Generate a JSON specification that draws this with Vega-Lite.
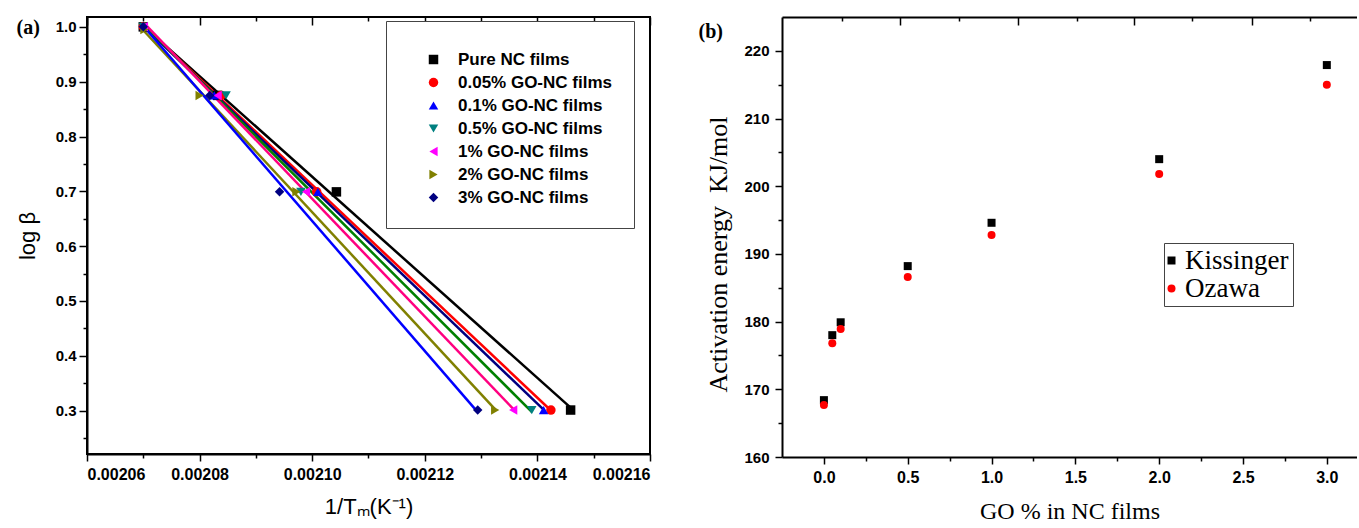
{
  "$schema": "https://vega.github.io/schema/vega-lite/v6.json",
  "background": "white",
  "padding": {"left": 15, "top": 15, "right": 0, "bottom": 0},
  "spacing": 46,
  "resolve": {"scale": {"color": "independent", "shape": "independent"}, "legend": {"color": "independent", "shape": "independent"}},
  "datasets": {
    "kin": [
      {"series": "Pure NC films", "invT": 0.0020700, "logb": 1.0},
      {"series": "Pure NC films", "invT": 0.0020832, "logb": 0.875},
      {"series": "Pure NC films", "invT": 0.0021043, "logb": 0.699},
      {"series": "Pure NC films", "invT": 0.0021459, "logb": 0.301},
      {"series": "0.05% GO-NC films", "invT": 0.0020700, "logb": 1.0},
      {"series": "0.05% GO-NC films", "invT": 0.0020838, "logb": 0.875},
      {"series": "0.05% GO-NC films", "invT": 0.0021008, "logb": 0.699},
      {"series": "0.05% GO-NC films", "invT": 0.0021424, "logb": 0.301},
      {"series": "0.1% GO-NC films", "invT": 0.0020702, "logb": 1.0},
      {"series": "0.1% GO-NC films", "invT": 0.0020826, "logb": 0.875},
      {"series": "0.1% GO-NC films", "invT": 0.0021010, "logb": 0.699},
      {"series": "0.1% GO-NC films", "invT": 0.0021411, "logb": 0.301},
      {"series": "0.5% GO-NC films", "invT": 0.0020700, "logb": 1.0},
      {"series": "0.5% GO-NC films", "invT": 0.0020847, "logb": 0.875},
      {"series": "0.5% GO-NC films", "invT": 0.0020980, "logb": 0.699},
      {"series": "0.5% GO-NC films", "invT": 0.0021390, "logb": 0.301},
      {"series": "1% GO-NC films", "invT": 0.0020701, "logb": 1.0},
      {"series": "1% GO-NC films", "invT": 0.0020832, "logb": 0.875},
      {"series": "1% GO-NC films", "invT": 0.0020989, "logb": 0.699},
      {"series": "1% GO-NC films", "invT": 0.0021357, "logb": 0.301},
      {"series": "2% GO-NC films", "invT": 0.0020702, "logb": 0.995},
      {"series": "2% GO-NC films", "invT": 0.0020800, "logb": 0.875},
      {"series": "2% GO-NC films", "invT": 0.0020972, "logb": 0.699},
      {"series": "2% GO-NC films", "invT": 0.0021325, "logb": 0.301},
      {"series": "3% GO-NC films", "invT": 0.0020700, "logb": 1.0},
      {"series": "3% GO-NC films", "invT": 0.0020818, "logb": 0.875},
      {"series": "3% GO-NC films", "invT": 0.0020942, "logb": 0.699},
      {"series": "3% GO-NC films", "invT": 0.0021294, "logb": 0.301}
    ],
    "ea": [
      {"method": "Kissinger", "go": 0.0, "E": 168.4},
      {"method": "Kissinger", "go": 0.05, "E": 178.0},
      {"method": "Kissinger", "go": 0.1, "E": 179.9},
      {"method": "Kissinger", "go": 0.5, "E": 188.2},
      {"method": "Kissinger", "go": 1.0, "E": 194.6},
      {"method": "Kissinger", "go": 2.0, "E": 204.0},
      {"method": "Kissinger", "go": 3.0, "E": 217.9},
      {"method": "Ozawa", "go": 0.0, "E": 167.7},
      {"method": "Ozawa", "go": 0.05, "E": 176.8},
      {"method": "Ozawa", "go": 0.1, "E": 178.9},
      {"method": "Ozawa", "go": 0.5, "E": 186.6},
      {"method": "Ozawa", "go": 1.0, "E": 192.8},
      {"method": "Ozawa", "go": 2.0, "E": 201.8},
      {"method": "Ozawa", "go": 3.0, "E": 215.0}
    ]
  },
  "config": {
    "font": "Liberation Sans",
    "view": {"stroke": null},
    "axis": {
      "grid": false,
      "domainColor": "black",
      "domainWidth": 2,
      "tickColor": "black",
      "tickWidth": 1.5,
      "labelColor": "black",
      "titleColor": "black",
      "labelFont": "Liberation Sans",
      "labelFontWeight": "bold",
      "labelFontSize": 15
    }
  },
  "hconcat": [
    {
      "width": 563,
      "height": 437,
      "view": {"stroke": "black", "strokeWidth": 2},
      "data": {"name": "kin"},
      "resolve": {"scale": {"color": "independent", "shape": "independent"}, "axis": {"x": "independent", "y": "independent"}},
      "layer": [
        {
          "transform": [{"regression": "logb", "on": "invT", "groupby": ["series"]}],
          "mark": {"type": "line", "strokeWidth": 2.5},
          "encoding": {
            "x": {"field": "invT", "type": "quantitative", "scale": {"domain": [0.00206, 0.00216], "nice": false, "zero": false},
              "axis": {"orient": "bottom", "values": [0.00206, 0.00208, 0.0021, 0.00212, 0.00214, 0.00216], "format": ".5f", "tickSize": 7, "labelPadding": 5, "labelFontSize": 16, "title": "1/Tₘ(K⁻¹)", "titleFont": "Liberation Sans", "titleFontSize": 22, "titleFontWeight": "normal", "titlePadding": 14}},
            "y": {"field": "logb", "type": "quantitative", "scale": {"domain": [0.2208, 1.018], "nice": false, "zero": false},
              "axis": {"orient": "left", "values": [0.3, 0.4, 0.5, 0.6, 0.7, 0.8, 0.9, 1.0], "format": ".1f", "tickSize": 8, "labelPadding": 3, "title": "log β", "titleFont": "Liberation Sans", "titleFontSize": 22, "titleFontWeight": "normal", "titlePadding": 16}},
            "color": {"field": "series", "type": "nominal",
              "scale": {"domain": ["Pure NC films", "0.05% GO-NC films", "0.1% GO-NC films", "0.5% GO-NC films", "1% GO-NC films", "2% GO-NC films", "3% GO-NC films"],
                "range": ["#000000", "#FF0000", "#000080", "#008000", "#FF0080", "#808000", "#0000FF"]},
              "legend": null}
          }
        },
        {
          "mark": {"type": "point", "filled": true, "size": 90, "opacity": 1},
          "encoding": {
            "x": {"field": "invT", "type": "quantitative", "scale": {"domain": [0.00206, 0.00216], "nice": false, "zero": false},
              "axis": {"orient": "bottom", "values": [0.00207, 0.00209, 0.00211, 0.00213, 0.00215], "labels": false, "tickSize": 4, "domain": false, "title": null}},
            "y": {"field": "logb", "type": "quantitative", "scale": {"domain": [0.2208, 1.018], "nice": false, "zero": false},
              "axis": {"orient": "left", "values": [0.25, 0.35, 0.45, 0.55, 0.65, 0.75, 0.85, 0.95], "labels": false, "tickSize": 4, "domain": false, "title": null}},
            "color": {"field": "series", "type": "nominal",
              "scale": {"domain": ["Pure NC films", "0.05% GO-NC films", "0.1% GO-NC films", "0.5% GO-NC films", "1% GO-NC films", "2% GO-NC films", "3% GO-NC films"],
                "range": ["#000000", "#FF0000", "#0000FF", "#008080", "#FF00FF", "#808000", "#000080"]},
              "legend": {"title": " ", "titleFontSize": 6, "titlePadding": 2, "orient": "none", "legendX": 299, "legendY": 4, "padding": 22, "strokeColor": "#444444", "fillColor": "white", "labelFont": "Liberation Sans", "labelFontWeight": "bold", "labelFontSize": 17, "labelColor": "black", "symbolSize": 90, "symbolStrokeWidth": 0, "rowPadding": 5, "labelOffset": 16, "symbolOffset": 17}},
            "shape": {"field": "series", "type": "nominal",
              "scale": {"domain": ["Pure NC films", "0.05% GO-NC films", "0.1% GO-NC films", "0.5% GO-NC films", "1% GO-NC films", "2% GO-NC films", "3% GO-NC films"],
                "range": ["square", "circle", "triangle-up", "triangle-down", "triangle-left", "triangle-right", "diamond"]},
              "legend": {"title": " ", "titleFontSize": 6, "titlePadding": 2, "orient": "none", "legendX": 299, "legendY": 4, "padding": 22, "strokeColor": "#444444", "fillColor": "white", "labelFont": "Liberation Sans", "labelFontWeight": "bold", "labelFontSize": 17, "labelColor": "black", "symbolSize": 90, "symbolStrokeWidth": 0, "rowPadding": 5, "labelOffset": 16, "symbolOffset": 17}}
          }
        },
        {
          "mark": {"type": "point", "opacity": 0},
          "encoding": {
            "x": {"field": "invT", "type": "quantitative", "scale": {"domain": [0.00206, 0.00216], "nice": false, "zero": false},
              "axis": {"orient": "top", "values": [0.00206, 0.00208, 0.0021, 0.00212, 0.00214, 0.00216], "labels": false, "tickSize": -8, "domain": false, "title": null}},
            "y": {"field": "logb", "type": "quantitative", "scale": {"domain": [0.2208, 1.018], "nice": false, "zero": false},
              "axis": {"orient": "left", "values": [], "ticks": false, "labels": false, "domain": false, "title": "(a)", "titleAngle": 0, "titleX": -71, "titleY": 0, "titleAlign": "left", "titleBaseline": "top", "titleFont": "Liberation Serif", "titleFontSize": 20, "titleFontWeight": "bold"}}
          }
        },
        {
          "mark": {"type": "point", "opacity": 0},
          "encoding": {
            "x": {"field": "invT", "type": "quantitative", "scale": {"domain": [0.00206, 0.00216], "nice": false, "zero": false},
              "axis": {"orient": "top", "values": [0.00207, 0.00209, 0.00211, 0.00213, 0.00215], "labels": false, "tickSize": -4, "domain": false, "title": null}},
            "y": {"field": "logb", "type": "quantitative", "scale": {"domain": [0.2208, 1.018], "nice": false, "zero": false}, "axis": null}
          }
        }
      ]
    },
    {
      "width": 575,
      "height": 440,
      "data": {"name": "ea"},
      "resolve": {"axis": {"x": "independent", "y": "independent"}},
      "layer": [
        {
          "mark": {"type": "point", "filled": true, "size": 64, "opacity": 1},
          "encoding": {
            "x": {"field": "go", "type": "quantitative", "scale": {"domain": [-0.25, 3.18], "nice": false, "zero": false},
              "axis": {"orient": "bottom", "values": [0, 0.5, 1, 1.5, 2, 2.5, 3], "format": ".1f", "tickSize": 7, "labelPadding": 5, "labelFontSize": 16, "title": "GO % in NC films", "titleFont": "Liberation Serif", "titleFontSize": 24, "titleFontWeight": "normal", "titlePadding": 14}},
            "y": {"field": "E", "type": "quantitative", "scale": {"domain": [160, 225], "nice": false, "zero": false},
              "axis": {"orient": "left", "values": [160, 170, 180, 190, 200, 210, 220], "tickSize": 7, "labelPadding": 6, "labelFontSize": 15, "title": "Activation energy\u00a0 KJ/mol", "titleFont": "Liberation Serif", "titleFontSize": 26, "titleFontWeight": "normal", "titlePadding": 12, "titleY": 237}},
            "color": {"field": "method", "type": "nominal", "scale": {"domain": ["Kissinger", "Ozawa"], "range": ["#000000", "#FF0000"]},
              "legend": {"title": null, "orient": "none", "legendX": 382, "legendY": 226, "padding": 4, "strokeColor": "#444444", "fillColor": "white", "labelFont": "Liberation Serif", "labelFontSize": 27, "labelFontWeight": "normal", "labelColor": "black", "symbolSize": 64, "symbolStrokeWidth": 0, "rowPadding": 0, "labelOffset": 0, "symbolOffset": -10}},
            "shape": {"field": "method", "type": "nominal", "scale": {"domain": ["Kissinger", "Ozawa"], "range": ["square", "circle"]},
              "legend": {"title": null, "orient": "none", "legendX": 382, "legendY": 226, "padding": 4, "strokeColor": "#444444", "fillColor": "white", "labelFont": "Liberation Serif", "labelFontSize": 27, "labelFontWeight": "normal", "labelColor": "black", "symbolSize": 64, "symbolStrokeWidth": 0, "rowPadding": 0, "labelOffset": 0, "symbolOffset": -10}}
          }
        },
        {
          "mark": {"type": "point", "opacity": 0},
          "encoding": {
            "x": {"field": "go", "type": "quantitative", "scale": {"domain": [-0.25, 3.18], "nice": false, "zero": false},
              "axis": {"orient": "bottom", "values": [0.25, 0.75, 1.25, 1.75, 2.25, 2.75], "labels": false, "tickSize": 4, "domain": false, "title": null}},
            "y": {"field": "E", "type": "quantitative", "scale": {"domain": [160, 225], "nice": false, "zero": false},
              "axis": {"orient": "left", "values": [165, 175, 185, 195, 205, 215], "labels": false, "tickSize": 4, "domain": false, "title": null}}
          }
        },
        {
          "mark": {"type": "point", "opacity": 0},
          "encoding": {
            "x": {"field": "go", "type": "quantitative", "scale": {"domain": [-0.25, 3.18], "nice": false, "zero": false},
              "axis": {"orient": "top", "values": [0.455, 1.156, 1.851, 2.551], "labels": false, "tickSize": -8, "domain": true, "title": null}},
            "y": {"field": "E", "type": "quantitative", "scale": {"domain": [160, 225], "nice": false, "zero": false},
              "axis": {"orient": "left", "values": [], "ticks": false, "labels": false, "domain": false, "title": "(b)", "titleAngle": 0, "titleX": -84, "titleY": 4, "titleAlign": "left", "titleBaseline": "top", "titleFont": "Liberation Serif", "titleFontSize": 20, "titleFontWeight": "bold"}}
          }
        },
        {
          "mark": {"type": "point", "opacity": 0},
          "encoding": {
            "x": {"field": "go", "type": "quantitative", "scale": {"domain": [-0.25, 3.18], "nice": false, "zero": false},
              "axis": {"orient": "top", "values": [0.107, 0.808, 1.507, 2.197, 2.898], "labels": false, "tickSize": -4, "domain": false, "title": null}},
            "y": {"field": "E", "type": "quantitative", "scale": {"domain": [160, 225], "nice": false, "zero": false}, "axis": null}
          }
        }
      ]
    }
  ]
}
